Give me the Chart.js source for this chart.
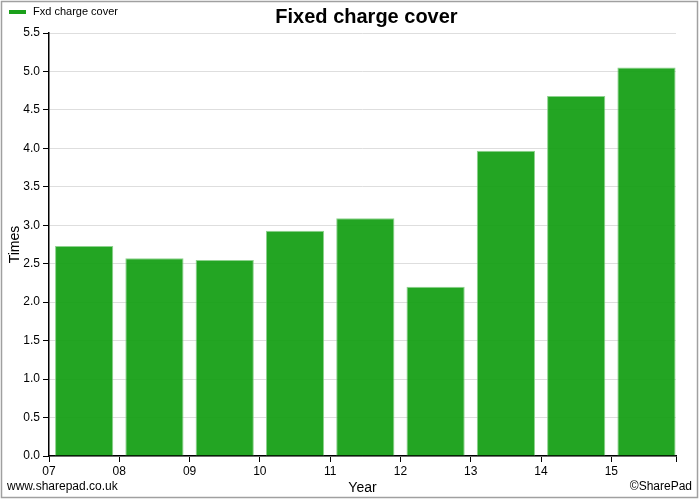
<!DOCTYPE html>
<html>
<head>
<meta charset="utf-8">
<script src="https://cdn.jsdelivr.net/npm/chart.js@4"></script>
<style>
    body { margin: 0; background: #fff; }
    #wrap { width: 700px; height: 500px; position: relative; }
</style>
</head>
<body>
<div id="wrap"><canvas id="cover-chart"></canvas></div>
<script>
// Fixed charge cover - bars drawn between the year ticks

const years = [7, 8, 9, 10, 11, 12, 13, 14, 15];
const yearLabels = ['07', '08', '09', '10', '11', '12', '13', '14', '15'];
const coverValues = [2.73, 2.57, 2.55, 2.93, 3.09, 2.20, 3.97, 4.68, 5.05];
const yTicks = [0, 0.5, 1, 1.5, 2, 2.5, 3, 3.5, 4, 4.5, 5, 5.5];

const FONT = '"Liberation Sans", Arial, Helvetica, sans-serif';

// Decorations: frame, legend, title, axis titles and footer texts
const decorations = {
    id: 'decorations',
    afterDraw(chart) {
        const ctx = chart.ctx;
        const area = chart.chartArea;
        ctx.save();

        ctx.strokeStyle = '#a0a0a0';
        ctx.lineWidth = 1.5;
        ctx.strokeRect(1.5, 1.5, 696, 496);

        // legend
        ctx.fillStyle = '#1ba01b';
        ctx.fillRect(9, 10, 17, 4);
        ctx.fillStyle = '#000';
        ctx.font = '11px ' + FONT;
        ctx.textBaseline = 'alphabetic';
        ctx.textAlign = 'left';
        ctx.fillText('Fxd charge cover', 33, 15);

        // title
        ctx.font = 'bold 20px ' + FONT;
        ctx.textAlign = 'center';
        ctx.fillText('Fixed charge cover', (area.left + area.right) / 2 + 4, 23);

        // axis titles
        ctx.font = '14px ' + FONT;
        ctx.fillText('Year', (area.left + area.right) / 2, 492);
        ctx.save();
        ctx.translate(19, (area.top + area.bottom) / 2);
        ctx.rotate(-Math.PI / 2);
        ctx.fillText('Times', 0, 0);
        ctx.restore();

        // footer
        ctx.font = '12px ' + FONT;
        ctx.textAlign = 'left';
        ctx.fillText('www.sharepad.co.uk', 7, 490);
        ctx.textAlign = 'right';
        ctx.fillText('\u00A9SharePad', 692, 490);

        ctx.restore();
    }
};

const points = years.map((yr, i) => ({ x: yr + 0.5, y: coverValues[i] }));

new Chart(document.getElementById('cover-chart'), {
    type: 'bar',
    data: {
        datasets: [{
            label: 'Fxd charge cover',
            data: points,
            backgroundColor: 'rgba(18, 158, 18, 0.93)',
            borderColor: 'rgba(130, 205, 130, 0.9)',
            borderWidth: 1,
            borderSkipped: 'bottom',
            categoryPercentage: 1,
            barPercentage: 0.9
        }]
    },
    options: {
        responsive: true,
        maintainAspectRatio: false,
        animation: false,
        layout: { padding: { left: 0, right: 24, top: 33, bottom: 0 } },
        plugins: {
            legend: { display: false },
            title: { display: false },
            tooltip: { enabled: false }
        },
        scales: {
            x: {
                type: 'linear',
                min: 7,
                max: 15.92,
                offset: false,
                afterBuildTicks(scale) {
                    scale.ticks = years.map(v => ({ value: v })).concat([{ value: 15.92 }]);
                },
                afterFit(scale) { scale.height = 44; },
                ticks: {
                    autoSkip: false,
                    maxRotation: 0,
                    padding: 2,
                    color: '#000',
                    font: { family: FONT, size: 12 },
                    callback(value) {
                        const idx = years.indexOf(value);
                        return idx >= 0 ? yearLabels[idx] : '';
                    }
                },
                grid: {
                    offset: false,
                    drawOnChartArea: false,
                    tickLength: 6,
                    tickColor: '#000'
                },
                border: { color: '#000', width: 1.5 }
            },
            y: {
                min: 0,
                max: 5.5,
                afterBuildTicks(scale) {
                    scale.ticks = yTicks.map(v => ({ value: v }));
                },
                afterFit(scale) { scale.width = 49; },
                ticks: {
                    padding: 3,
                    color: '#000',
                    font: { family: FONT, size: 12 },
                    callback: value => value.toFixed(1)
                },
                grid: {
                    color: '#dedede',
                    tickLength: 6,
                    tickColor: '#000'
                },
                border: { color: '#000', width: 1.5 }
            }
        }
    },
    plugins: [decorations]
});
</script>
</body>
</html>
